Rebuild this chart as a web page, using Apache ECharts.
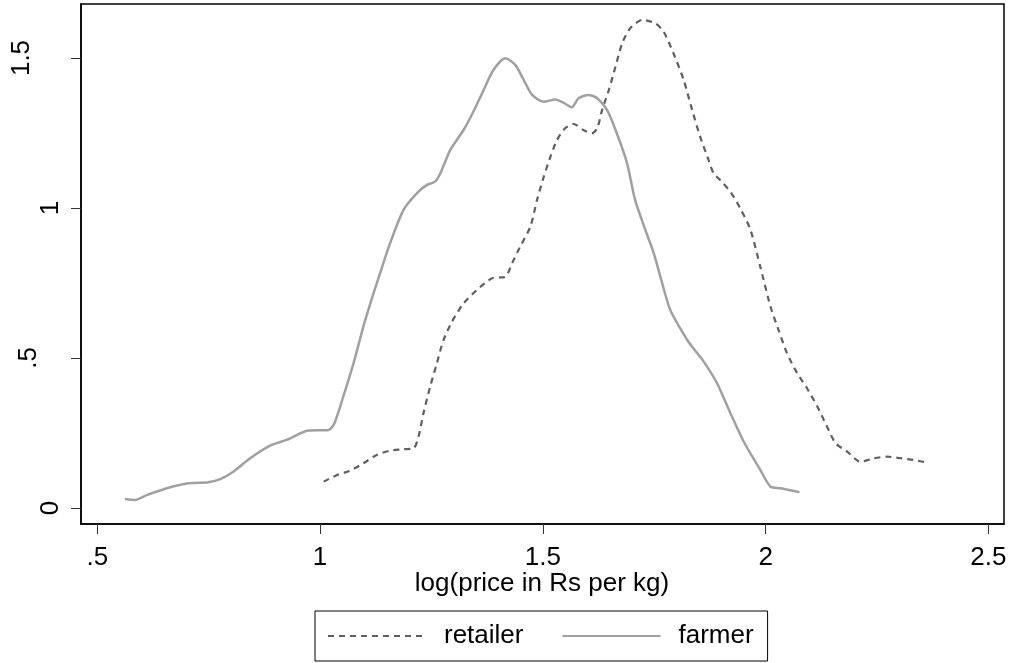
<!DOCTYPE html>
<html>
<head>
<meta charset="utf-8">
<script src="https://cdn.jsdelivr.net/npm/echarts@6/dist/echarts.min.js"></script>
<style>
html,body{margin:0;padding:0;background:#fff;}
#c{width:1012px;height:663px;}
</style>
</head>
<body>
<div id="c"></div>
<script>
// ---- data ----
var farmerX = [0.562,0.585,0.611,0.656,0.701,0.749,0.776,0.805,0.843,0.888,0.925,0.974,1.019,1.032,1.052,1.075,1.097,1.120,1.131,1.157,1.187,1.217,1.240,1.258,1.270,1.292,1.322,1.344,1.367,1.389,1.416,1.438,1.457,1.476,1.502,1.528,1.546,1.565,1.580,1.603,1.622,1.644,1.666,1.689,1.707,1.730,1.749,1.764,1.786,1.824,1.838,1.861,1.891,1.921,1.951,1.988,2.011,2.033,2.076];
var farmerY = [0.030,0.027,0.043,0.066,0.082,0.086,0.096,0.121,0.166,0.208,0.227,0.258,0.260,0.282,0.371,0.482,0.604,0.716,0.766,0.882,0.993,1.049,1.077,1.088,1.116,1.193,1.260,1.321,1.393,1.460,1.499,1.477,1.427,1.377,1.354,1.362,1.351,1.336,1.366,1.377,1.366,1.327,1.249,1.149,1.027,0.927,0.849,0.770,0.660,0.560,0.532,0.488,0.416,0.316,0.221,0.127,0.071,0.066,0.053];
var retailerX = [1.008,1.038,1.067,1.097,1.127,1.157,1.187,1.210,1.221,1.232,1.247,1.262,1.277,1.296,1.322,1.352,1.386,1.416,1.431,1.449,1.472,1.487,1.502,1.517,1.532,1.550,1.569,1.591,1.610,1.622,1.633,1.648,1.663,1.678,1.696,1.723,1.752,1.771,1.793,1.816,1.835,1.853,1.872,1.883,1.898,1.921,1.943,1.966,1.988,2.011,2.029,2.048,2.071,2.093,2.116,2.138,2.157,2.183,2.213,2.243,2.273,2.303,2.333,2.363];
var retailerY = [0.088,0.110,0.124,0.149,0.177,0.191,0.196,0.199,0.238,0.316,0.404,0.482,0.560,0.621,0.682,0.727,0.766,0.771,0.816,0.871,0.938,1.027,1.104,1.171,1.227,1.266,1.280,1.260,1.249,1.266,1.327,1.393,1.471,1.549,1.599,1.627,1.616,1.588,1.516,1.427,1.327,1.238,1.160,1.116,1.093,1.054,0.999,0.927,0.804,0.671,0.593,0.516,0.449,0.399,0.338,0.271,0.216,0.188,0.154,0.166,0.171,0.166,0.160,0.151];
var xTicks = [0.5, 1, 1.5, 2, 2.5];
var xTickLabels = ['.5', '1', '1.5', '2', '2.5'];
var yTicks = [0, 0.5, 1, 1.5];
var yTickLabels = ['0', '.5', '1', '1.5'];
var seriesNames = ['retailer', 'farmer'];
var xTitle = 'log(price in Rs per kg)';

function pairs(xs, ys){ return xs.map(function(x,i){ return [x, ys[i]]; }); }
function lab(ticks, labels){ return function(v){ for (var i=0;i<ticks.length;i++){ if (Math.abs(ticks[i]-v)<1e-9) return labels[i]; } return ''; }; }

var FONT = '"Liberation Sans", Arial, Helvetica, sans-serif';
var YMIN = -0.0533, YMAX = 1.68;
// label distance from the axis per tick (the reference staggers the rotated labels)
var yLabelMargin = {'0': 17, '.5': 39, '1': 17, '1.5': 46};

var yAxes = [{
  type: 'value', min: YMIN, max: YMAX,
  axisLine: {show: true, onZero: false, lineStyle: {color: '#000', width: 1.5}},
  axisTick: {show: true, customValues: yTicks, length: 10, inside: false, lineStyle: {color: '#333', width: 1}},
  axisLabel: {show: false},
  splitLine: {show: false}
}];
yTicks.forEach(function(t, i){
  yAxes.push({
    type: 'value', min: YMIN, max: YMAX, position: 'left', offset: 0,
    axisLine: {show: false}, axisTick: {show: false}, splitLine: {show: false},
    axisLabel: {customValues: [t], formatter: lab(yTicks, yTickLabels), rotate: 90,
      fontFamily: FONT, fontSize: 26, color: '#000', margin: yLabelMargin[yTickLabels[i]]}
  });
});

var chart = echarts.init(document.getElementById('c'), null, {renderer:'canvas'});
chart.setOption({
  backgroundColor: '#fff',
  animation: false,
  grid: {left: 81, top: 4, right: 8, bottom: 139, show: true, borderColor: '#000', borderWidth: 1.5, backgroundColor: '#fff'},
  xAxis: {
    type: 'value', min: 0.4634, max: 2.535,
    axisLine: {show: true, onZero: false, lineStyle: {color: '#000', width: 1.5}},
    axisTick: {show: true, customValues: xTicks, length: 10, inside: false, lineStyle: {color: '#333', width: 1}},
    axisLabel: {customValues: xTicks, formatter: lab(xTicks, xTickLabels), fontFamily: FONT, fontSize: 26, color: '#000', margin: 21, showMinLabel: true, showMaxLabel: true},
    splitLine: {show: false}
  },
  yAxis: yAxes,
  legend: {
    left: 315, top: 611,
    orient: 'horizontal',
    data: seriesNames,
    itemWidth: 98, itemHeight: 20, itemGap: 38,
    itemStyle: {opacity: 0},
    borderColor: '#000', borderWidth: 1,
    padding: [12, 14, 12, 12],
    textStyle: {fontFamily: FONT, fontSize: 26, color: '#000', padding: [0, 0, 0, 13]}
  },
  graphic: [{
    type: 'text', x: 542, y: 584,
    style: {text: xTitle, fontFamily: FONT, fontSize: 26, fill: '#000', textAlign: 'center', textVerticalAlign: 'middle'}
  }],
  series: [
    {name: seriesNames[0], type: 'line', yAxisIndex: 0, data: pairs(retailerX, retailerY), symbol: 'none', smooth: 0.25,
     lineStyle: {color: '#5f5f5f', width: 2.2, type: [6, 5]}, itemStyle: {color: '#5f5f5f'}},
    {name: seriesNames[1], type: 'line', yAxisIndex: 0, data: pairs(farmerX, farmerY), symbol: 'none', smooth: 0.25,
     lineStyle: {color: '#a0a0a0', width: 2.5, type: 'solid'}, itemStyle: {color: '#a0a0a0'}}
  ]
});
</script>
</body>
</html>
